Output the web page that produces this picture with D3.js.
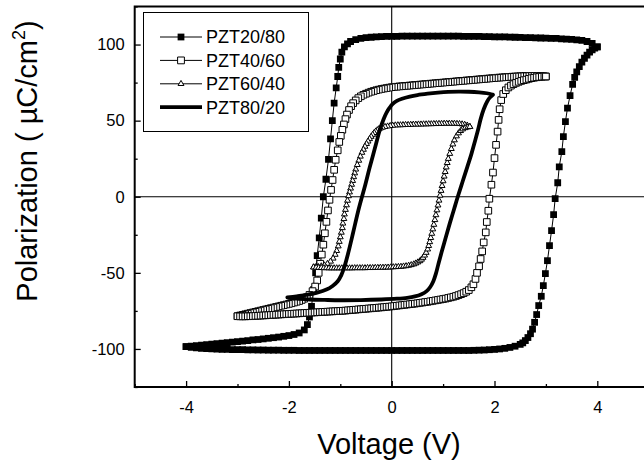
<!DOCTYPE html>
<html>
<head>
<meta charset="utf-8">
<script src="https://cdn.jsdelivr.net/npm/d3@7"></script>
<style>
  html, body { margin: 0; padding: 0; background: #fff; }
  svg { display: block; font-family: "Liberation Sans", Arial, Helvetica, sans-serif; }
</style>
</head>
<body>
<svg id="chart" width="644" height="466"></svg>
<script>
// P-E hysteresis loops of PZT films: voltage (V) vs polarization (µC/cm²).
// Each loop = descending sweep (V from +Vmax to -Vmax) followed by ascending sweep.

const seriesNames = ["PZT20/80", "PZT40/60", "PZT60/40", "PZT80/20"];

const xMajorTicks = [-4, -2, 0, 2, 4];
const xMinorTicks = [-5, -3, -1, 1, 3, 5];
const yMajorTicks = [-100, -50, 0, 50, 100];
const yMinorTicks = [-125, -75, -25, 25, 75, 125];

// PZT20/80 (filled squares)
const pzt2080Descending = [[4.00,98.5],[3.90,100.8],[3.80,102.0],[3.70,102.7],[3.60,103.1],[3.50,103.4],[3.40,103.6],[3.30,103.8],[3.20,104.0],[3.10,104.1],[3.00,104.2],[2.90,104.3],[2.80,104.4],[2.70,104.5],[2.60,104.6],[2.50,104.7],[2.40,104.8],[2.30,104.9],[2.20,105.0],[2.10,105.0],[2.00,105.1],[1.90,105.2],[1.80,105.2],[1.70,105.3],[1.60,105.3],[1.50,105.4],[1.40,105.4],[1.30,105.5],[1.20,105.5],[1.10,105.5],[1.00,105.6],[0.90,105.6],[0.80,105.6],[0.70,105.6],[0.60,105.6],[0.50,105.6],[0.40,105.6],[0.30,105.5],[0.20,105.5],[0.10,105.4],[0.00,105.4],[-0.10,105.3],[-0.20,105.2],[-0.30,105.0],[-0.40,104.8],[-0.50,104.5],[-0.60,104.0],[-0.70,103.2],[-0.80,102.0],[-0.86,100.5],[-0.92,98.5],[-0.97,95.0],[-1.00,90.5],[-1.03,85.0],[-1.05,79.0],[-1.08,71.5],[-1.12,61.5],[-1.155,50.0],[-1.19,38.0],[-1.23,24.5],[-1.28,11.5],[-1.33,0.0],[-1.37,-14.0],[-1.41,-27.0],[-1.45,-38.7],[-1.48,-50.0],[-1.52,-61.0],[-1.56,-72.0],[-1.60,-79.0],[-1.64,-84.0],[-1.70,-87.5],[-1.80,-89.5],[-1.90,-90.5],[-2.00,-91.2],[-2.10,-91.7],[-2.20,-92.2],[-2.30,-92.6],[-2.40,-93.0],[-2.50,-93.4],[-2.60,-93.8],[-2.70,-94.1],[-2.80,-94.5],[-2.90,-94.8],[-3.00,-95.2],[-3.10,-95.5],[-3.20,-95.9],[-3.30,-96.2],[-3.40,-96.5],[-3.50,-96.8],[-3.60,-97.1],[-3.70,-97.5],[-3.80,-97.8],[-3.90,-98.1],[-4.00,-98.5]];
const pzt2080Ascending = [[-4.00,-98.5],[-3.90,-99.0],[-3.80,-99.3],[-3.70,-99.6],[-3.60,-99.8],[-3.50,-100.0],[-3.40,-100.1],[-3.30,-100.2],[-3.20,-100.3],[-3.10,-100.4],[-3.00,-100.5],[-2.90,-100.5],[-2.80,-100.6],[-2.70,-100.6],[-2.60,-100.7],[-2.50,-100.7],[-2.40,-100.8],[-2.30,-100.8],[-2.20,-100.8],[-2.10,-100.9],[-2.00,-100.9],[-1.90,-100.9],[-1.80,-101.0],[-1.70,-101.0],[-1.60,-101.0],[-1.50,-101.0],[-1.40,-101.0],[-1.30,-101.0],[-1.20,-101.0],[-1.10,-101.0],[-1.00,-101.0],[-0.90,-101.0],[-0.80,-101.0],[-0.70,-101.0],[-0.60,-101.0],[-0.50,-101.0],[-0.40,-101.0],[-0.30,-101.0],[-0.20,-101.0],[-0.10,-101.0],[0.00,-101.0],[0.10,-101.0],[0.20,-101.0],[0.30,-101.0],[0.40,-101.0],[0.50,-101.0],[0.60,-101.0],[0.70,-101.0],[0.80,-101.0],[0.90,-101.0],[1.00,-101.0],[1.10,-101.0],[1.20,-101.0],[1.30,-101.0],[1.40,-101.0],[1.50,-101.0],[1.60,-100.9],[1.70,-100.8],[1.80,-100.7],[1.90,-100.5],[2.00,-100.3],[2.10,-100.0],[2.20,-99.6],[2.30,-99.0],[2.40,-98.2],[2.50,-97.0],[2.55,-96.0],[2.60,-94.5],[2.65,-92.5],[2.70,-90.0],[2.74,-87.0],[2.78,-82.5],[2.82,-77.4],[2.86,-71.5],[2.91,-65.4],[2.95,-58.4],[2.99,-50.5],[3.03,-42.0],[3.07,-32.1],[3.11,-22.3],[3.15,-11.8],[3.18,-1.3],[3.23,9.2],[3.26,19.7],[3.31,29.7],[3.34,39.5],[3.38,49.4],[3.42,58.2],[3.47,66.4],[3.52,73.9],[3.56,78.5],[3.60,82.0],[3.65,85.5],[3.70,88.5],[3.75,91.0],[3.80,93.0],[3.85,95.0],[3.90,96.5],[3.95,97.7],[4.00,98.5]];

// PZT40/60 (open squares)
const pzt4060Descending = [[3.00,79.0],[2.95,79.2],[2.90,79.3],[2.85,79.4],[2.80,79.4],[2.75,79.4],[2.70,79.4],[2.65,79.3],[2.60,79.3],[2.55,79.2],[2.50,79.2],[2.45,79.1],[2.40,79.0],[2.35,78.9],[2.30,78.8],[2.25,78.7],[2.20,78.6],[2.15,78.4],[2.10,78.3],[2.05,78.2],[2.00,78.0],[1.95,77.9],[1.90,77.7],[1.85,77.6],[1.80,77.4],[1.75,77.3],[1.70,77.1],[1.65,77.0],[1.60,76.8],[1.55,76.7],[1.50,76.5],[1.45,76.4],[1.40,76.2],[1.35,76.1],[1.30,75.9],[1.25,75.8],[1.20,75.6],[1.15,75.5],[1.10,75.3],[1.05,75.2],[1.00,75.0],[0.95,74.9],[0.90,74.7],[0.85,74.6],[0.80,74.4],[0.75,74.3],[0.70,74.1],[0.65,74.0],[0.60,73.8],[0.55,73.7],[0.50,73.5],[0.45,73.4],[0.40,73.2],[0.35,73.1],[0.30,72.9],[0.25,72.8],[0.20,72.6],[0.15,72.5],[0.10,72.3],[0.05,72.2],[0.00,72.0],[-0.05,71.7],[-0.10,71.4],[-0.15,71.1],[-0.20,70.8],[-0.25,70.4],[-0.30,70.0],[-0.35,69.5],[-0.40,69.0],[-0.45,68.4],[-0.50,67.7],[-0.55,67.0],[-0.60,66.0],[-0.65,64.8],[-0.70,63.3],[-0.75,61.5],[-0.79,59.5],[-0.83,57.0],[-0.87,54.0],[-0.90,51.0],[-0.93,47.5],[-0.96,44.0],[-0.99,40.0],[-1.02,36.0],[-1.05,30.5],[-1.09,24.3],[-1.12,17.7],[-1.15,11.0],[-1.18,4.5],[-1.21,-2.0],[-1.24,-9.0],[-1.27,-16.5],[-1.30,-24.0],[-1.33,-31.5],[-1.36,-38.0],[-1.39,-44.0],[-1.42,-50.0],[-1.45,-55.0],[-1.49,-59.0],[-1.54,-62.0],[-1.60,-64.5],[-1.65,-66.0],[-1.70,-67.0],[-1.75,-67.8],[-1.80,-68.5],[-1.85,-69.0],[-1.90,-69.5],[-1.95,-70.0],[-2.00,-70.4],[-2.05,-70.8],[-2.10,-71.2],[-2.15,-71.6],[-2.20,-72.0],[-2.25,-72.4],[-2.30,-72.8],[-2.35,-73.2],[-2.40,-73.6],[-2.45,-74.0],[-2.50,-74.4],[-2.55,-74.8],[-2.60,-75.2],[-2.65,-75.6],[-2.70,-76.0],[-2.75,-76.4],[-2.80,-76.8],[-2.85,-77.2],[-2.90,-77.6],[-2.95,-78.0],[-3.00,-78.5]];
const pzt4060Ascending = [[-3.00,-78.5],[-2.95,-78.6],[-2.90,-78.6],[-2.85,-78.6],[-2.80,-78.5],[-2.75,-78.5],[-2.70,-78.4],[-2.65,-78.3],[-2.60,-78.2],[-2.55,-78.1],[-2.50,-78.0],[-2.45,-77.9],[-2.40,-77.8],[-2.35,-77.7],[-2.30,-77.6],[-2.25,-77.5],[-2.20,-77.4],[-2.15,-77.3],[-2.10,-77.2],[-2.05,-77.1],[-2.00,-77.0],[-1.95,-76.9],[-1.90,-76.8],[-1.85,-76.7],[-1.80,-76.6],[-1.75,-76.5],[-1.70,-76.4],[-1.65,-76.3],[-1.60,-76.2],[-1.55,-76.1],[-1.50,-76.0],[-1.45,-75.9],[-1.40,-75.8],[-1.35,-75.7],[-1.30,-75.6],[-1.25,-75.5],[-1.20,-75.4],[-1.15,-75.3],[-1.10,-75.2],[-1.05,-75.1],[-1.00,-75.0],[-0.95,-74.9],[-0.90,-74.8],[-0.85,-74.6],[-0.80,-74.5],[-0.75,-74.3],[-0.70,-74.2],[-0.65,-74.0],[-0.60,-73.9],[-0.55,-73.7],[-0.50,-73.6],[-0.45,-73.4],[-0.40,-73.3],[-0.35,-73.1],[-0.30,-73.0],[-0.25,-72.8],[-0.20,-72.7],[-0.15,-72.5],[-0.10,-72.3],[-0.05,-72.2],[0.00,-72.0],[0.05,-71.8],[0.10,-71.6],[0.15,-71.4],[0.20,-71.2],[0.25,-71.0],[0.30,-70.8],[0.35,-70.6],[0.40,-70.4],[0.45,-70.2],[0.50,-70.0],[0.55,-69.7],[0.60,-69.5],[0.65,-69.2],[0.70,-69.0],[0.75,-68.7],[0.80,-68.4],[0.85,-68.1],[0.90,-67.8],[0.95,-67.5],[1.00,-67.2],[1.05,-66.9],[1.10,-66.5],[1.15,-66.1],[1.20,-65.7],[1.25,-65.2],[1.30,-64.6],[1.35,-64.0],[1.40,-63.3],[1.45,-62.4],[1.50,-61.3],[1.55,-59.5],[1.59,-57.5],[1.63,-54.0],[1.66,-50.0],[1.70,-45.7],[1.73,-40.9],[1.76,-35.9],[1.79,-30.0],[1.83,-23.4],[1.85,-16.6],[1.88,-9.2],[1.90,-1.3],[1.94,7.9],[1.97,15.9],[2.00,25.4],[2.03,34.1],[2.06,42.8],[2.08,50.5],[2.10,57.5],[2.13,63.5],[2.17,67.5],[2.22,70.0],[2.27,71.8],[2.32,73.0],[2.37,74.0],[2.42,74.8],[2.47,75.5],[2.52,76.1],[2.57,76.6],[2.62,77.0],[2.67,77.5],[2.72,77.9],[2.77,78.2],[2.82,78.5],[2.87,78.7],[2.92,78.9],[2.97,79.0],[3.00,79.0]];

// PZT60/40 (open triangles)
const pzt6040Descending = [[1.52,46.0],[1.47,46.9],[1.42,47.4],[1.37,47.7],[1.32,47.9],[1.27,48.0],[1.22,48.1],[1.17,48.1],[1.12,48.1],[1.07,48.1],[1.02,48.1],[0.97,48.0],[0.92,48.0],[0.87,47.9],[0.82,47.9],[0.77,47.8],[0.72,47.8],[0.67,47.7],[0.62,47.7],[0.57,47.6],[0.52,47.6],[0.47,47.5],[0.42,47.5],[0.37,47.4],[0.32,47.3],[0.27,47.3],[0.22,47.2],[0.17,47.1],[0.12,47.1],[0.07,47.0],[0.02,46.8],[-0.03,46.6],[-0.08,46.3],[-0.13,46.0],[-0.18,45.5],[-0.22,45.0],[-0.25,44.5],[-0.28,43.8],[-0.31,43.0],[-0.34,42.0],[-0.37,40.8],[-0.40,39.5],[-0.43,38.0],[-0.46,36.4],[-0.49,34.8],[-0.52,33.0],[-0.55,31.0],[-0.58,29.0],[-0.61,26.5],[-0.64,23.8],[-0.67,21.0],[-0.70,18.0],[-0.72,15.5],[-0.74,13.0],[-0.76,10.5],[-0.78,8.0],[-0.80,5.5],[-0.82,3.0],[-0.84,0.5],[-0.86,-2.5],[-0.88,-5.5],[-0.90,-8.5],[-0.92,-11.5],[-0.93,-14.5],[-0.95,-17.5],[-0.96,-20.5],[-0.98,-23.5],[-1.00,-26.5],[-1.02,-29.5],[-1.04,-32.5],[-1.07,-35.5],[-1.10,-38.0],[-1.14,-40.5],[-1.19,-42.5],[-1.25,-44.0],[-1.31,-45.0],[-1.37,-45.6],[-1.43,-46.0],[-1.48,-46.2],[-1.52,-46.3]];
const pzt6040Ascending = [[-1.52,-46.3],[-1.47,-46.5],[-1.42,-46.6],[-1.37,-46.7],[-1.32,-46.8],[-1.27,-46.8],[-1.22,-46.9],[-1.17,-46.9],[-1.12,-46.9],[-1.07,-46.9],[-1.02,-46.9],[-0.97,-46.9],[-0.92,-46.9],[-0.87,-46.9],[-0.82,-46.9],[-0.77,-46.9],[-0.72,-46.8],[-0.67,-46.8],[-0.62,-46.8],[-0.57,-46.8],[-0.52,-46.8],[-0.47,-46.7],[-0.42,-46.7],[-0.37,-46.7],[-0.32,-46.6],[-0.27,-46.6],[-0.22,-46.5],[-0.17,-46.5],[-0.12,-46.4],[-0.07,-46.4],[-0.02,-46.3],[0.03,-46.2],[0.08,-46.1],[0.13,-46.0],[0.18,-45.9],[0.23,-45.7],[0.28,-45.5],[0.33,-45.2],[0.38,-44.8],[0.43,-44.3],[0.47,-43.7],[0.51,-43.0],[0.55,-42.2],[0.58,-41.2],[0.61,-40.0],[0.64,-38.5],[0.67,-36.7],[0.70,-34.5],[0.72,-32.2],[0.74,-29.7],[0.76,-27.0],[0.78,-24.2],[0.80,-21.3],[0.82,-18.3],[0.84,-15.2],[0.86,-12.0],[0.88,-8.8],[0.90,-5.6],[0.92,-2.4],[0.94,0.8],[0.96,4.0],[0.98,7.2],[1.00,10.3],[1.02,13.4],[1.04,16.4],[1.06,19.4],[1.08,22.3],[1.10,25.0],[1.13,28.3],[1.16,31.5],[1.19,34.5],[1.22,37.2],[1.26,39.8],[1.30,41.8],[1.34,43.3],[1.38,44.4],[1.43,45.2],[1.48,45.7],[1.52,46.0]];

// PZT80/20 (solid line)
const pzt8020Descending = [[1.97,67.0],[1.85,68.0],[1.70,68.6],[1.50,69.0],[1.30,69.1],[1.10,68.9],[0.90,68.4],[0.70,67.7],[0.50,66.8],[0.35,65.8],[0.20,64.4],[0.10,63.0],[0.02,61.0],[-0.04,58.5],[-0.10,55.3],[-0.16,50.8],[-0.23,44.0],[-0.33,31.5],[-0.43,19.0],[-0.52,7.0],[-0.59,-1.5],[-0.66,-10.5],[-0.75,-23.5],[-0.85,-37.5],[-0.92,-46.0],[-0.98,-51.5],[-1.05,-55.5],[-1.15,-58.6],[-1.27,-61.0],[-1.45,-63.0],[-1.66,-64.5],[-1.85,-65.4],[-2.03,-66.2]];
const pzt8020Ascending = [[-2.03,-66.2],[-1.85,-67.0],[-1.60,-67.5],[-1.30,-67.8],[-1.00,-68.0],[-0.60,-67.9],[-0.20,-67.5],[0.10,-67.0],[0.30,-66.4],[0.45,-65.5],[0.58,-64.0],[0.68,-62.0],[0.75,-59.3],[0.81,-55.5],[0.86,-50.5],[0.91,-44.0],[0.97,-36.5],[1.05,-27.0],[1.13,-17.5],[1.21,-8.5],[1.29,0.5],[1.38,10.0],[1.47,19.5],[1.55,28.0],[1.62,36.5],[1.68,44.0],[1.73,51.0],[1.79,57.5],[1.86,62.8],[1.92,65.5],[1.97,67.0]];

const loops = [
  { name: seriesNames[0], marker: "filledSquare", points: pzt2080Descending.concat(pzt2080Ascending) },
  { name: seriesNames[1], marker: "openSquare",   points: pzt4060Descending.concat(pzt4060Ascending) },
  { name: seriesNames[2], marker: "openTriangle", points: pzt6040Descending.concat(pzt6040Ascending) },
  { name: seriesNames[3], marker: "none",         points: pzt8020Descending.concat(pzt8020Ascending) }
];

const svg = d3.select("#chart");
svg.append("rect").attr("width", 644).attr("height", 466).attr("fill", "#fff");

const x = d3.scaleLinear().domain([-5, 5]).range([134.7, 648.7]);
const y = d3.scaleLinear().domain([-125, 125]).range([387, 6.5]);

const markerShapes = {
  filledSquare: { type: d3.symbolSquare, size: 46, fill: "#000", stroke: "none" },
  openSquare:   { type: d3.symbolSquare, size: 44, fill: "#fff", stroke: "#000" },
  openTriangle: { type: d3.symbolTriangle, size: 15, fill: "#fff", stroke: "#000" }
};

svg.append("clipPath").attr("id", "plotClip")
  .append("rect")
  .attr("x", x(-5)).attr("y", y(125))
  .attr("width", x(5) - x(-5)).attr("height", y(-125) - y(125));

// zero cross-hair lines
const cross = svg.append("g").attr("stroke", "#000").attr("stroke-width", 1.1);
cross.append("line").attr("x1", x(0)).attr("x2", x(0)).attr("y1", y(125)).attr("y2", y(-125));
cross.append("line").attr("x1", x(-5)).attr("x2", x(5)).attr("y1", y(0)).attr("y2", y(0));

const plot = svg.append("g").attr("clip-path", "url(#plotClip)");
const lineGen = d3.line().x(d => x(d[0])).y(d => y(d[1]));
const smoothLine = d3.line().x(d => x(d[0])).y(d => y(d[1])).curve(d3.curveCatmullRom.alpha(0.5));

loops.forEach(loop => {
  const g = plot.append("g");
  if (loop.marker === "none") {
    g.append("path").attr("d", smoothLine(loop.points))
      .attr("fill", "none").attr("stroke", "#000")
      .attr("stroke-width", 3.8).attr("stroke-linejoin", "round").attr("stroke-linecap", "round");
    return;
  }
  g.append("path").attr("d", lineGen(loop.points))
    .attr("fill", "none").attr("stroke", "#000").attr("stroke-width", 1);
  const m = markerShapes[loop.marker];
  const sym = d3.symbol().type(m.type).size(m.size);
  g.selectAll("path.pt").data(loop.points).join("path")
    .attr("class", "pt")
    .attr("d", sym)
    .attr("transform", d => `translate(${x(d[0])},${y(d[1])})`)
    .attr("fill", m.fill).attr("stroke", m.stroke).attr("stroke-width", 1);
});

// axes with inward ticks; labels use a plain hyphen for negatives
const plainNumber = d => String(d);
const tickFont = g => g.selectAll("text")
  .attr("font-size", 16.5).attr("fill", "#000")
  .attr("font-family", "'Liberation Sans', Arial, Helvetica, sans-serif");

const xAxis = svg.append("g").attr("transform", `translate(0,${y(-125)})`)
  .call(d3.axisBottom(x).tickValues(xMajorTicks).tickFormat(plainNumber)
    .tickSizeInner(-6).tickSizeOuter(0).tickPadding(14))
  .call(tickFont);
const xMinor = svg.append("g").attr("transform", `translate(0,${y(-125)})`)
  .call(d3.axisBottom(x).tickValues(xMinorTicks).tickFormat("").tickSizeInner(-3).tickSizeOuter(0));

const yAxis = svg.append("g").attr("transform", `translate(${x(-5)},0)`)
  .call(d3.axisLeft(y).tickValues(yMajorTicks).tickFormat(plainNumber)
    .tickSizeInner(-6).tickSizeOuter(0).tickPadding(10))
  .call(tickFont);
const yMinor = svg.append("g").attr("transform", `translate(${x(-5)},0)`)
  .call(d3.axisLeft(y).tickValues(yMinorTicks).tickFormat("").tickSizeInner(-3).tickSizeOuter(0));

[xAxis, xMinor, yAxis, yMinor].forEach(a => {
  a.select(".domain").remove();
  a.selectAll(".tick line").attr("stroke", "#000").attr("stroke-width", 1.3);
});

// plot frame
svg.append("rect")
  .attr("x", x(-5)).attr("y", y(125))
  .attr("width", x(5) - x(-5)).attr("height", y(-125) - y(125))
  .attr("fill", "none").attr("stroke", "#000").attr("stroke-width", 2);

// axis titles
svg.append("text")
  .attr("x", 389).attr("y", 454)
  .attr("text-anchor", "middle").attr("font-size", 29).attr("fill", "#000")
  .text("Voltage (V)");

const yTitle = svg.append("text")
  .attr("transform", "translate(37,161) rotate(-90)")
  .attr("text-anchor", "middle").attr("font-size", 29).attr("fill", "#000");
yTitle.append("tspan").text("Polarization ( µC/cm");
yTitle.append("tspan").attr("font-size", 18).attr("dy", -12).text("2");
yTitle.append("tspan").attr("dy", 12).text(")");

// legend
const legend = svg.append("g");
legend.append("rect")
  .attr("x", 143.5).attr("y", 12.5).attr("width", 165).attr("height", 119)
  .attr("fill", "#fff").attr("stroke", "#000").attr("stroke-width", 1);

loops.forEach((loop, i) => {
  const cy = 37 + i * 23.4;
  const row = legend.append("g");
  row.append("line")
    .attr("x1", 160).attr("x2", 202).attr("y1", cy).attr("y2", cy)
    .attr("stroke", "#000").attr("stroke-width", loop.marker === "none" ? 3.8 : 1);
  if (loop.marker !== "none") {
    const m = markerShapes[loop.marker];
    row.append("path")
      .attr("d", d3.symbol().type(m.type).size(loop.marker === "openTriangle" ? 15 : 46)())
      .attr("transform", `translate(181,${cy})`)
      .attr("fill", m.fill).attr("stroke", m.stroke).attr("stroke-width", 1);
  }
  row.append("text")
    .attr("x", 206).attr("y", cy + 6.4)
    .attr("font-size", 18).attr("fill", "#000")
    .text(loop.name);
});
</script>
</body>
</html>
